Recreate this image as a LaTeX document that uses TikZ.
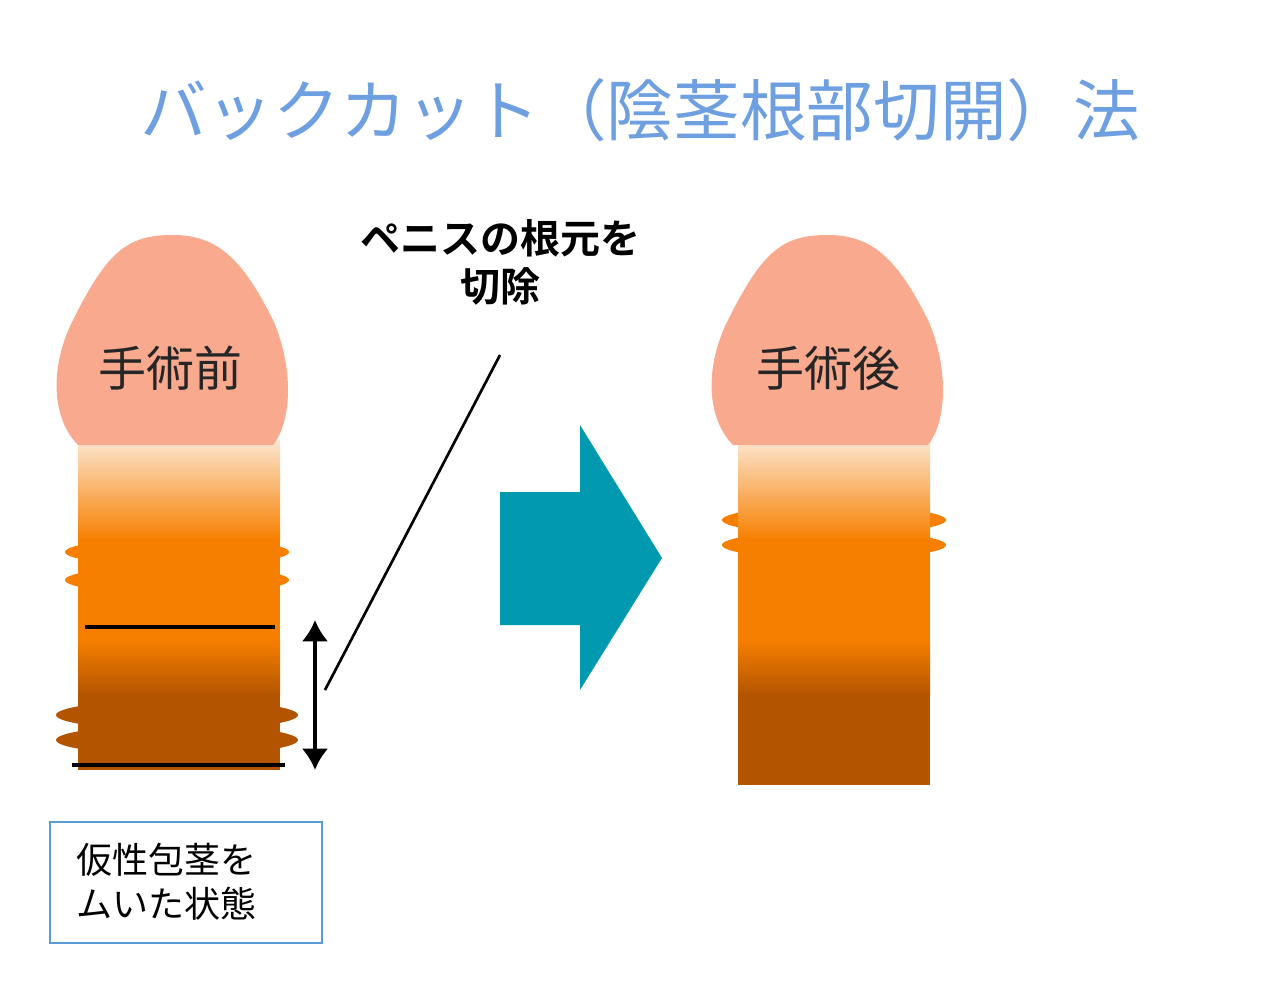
\documentclass[tikz,border=0pt]{standalone}
\usepackage{fontspec}
\usetikzlibrary{arrows.meta}
\newfontfamily\jp{Noto Sans CJK JP}
\newfontfamily\jpb{Noto Sans CJK JP}[BoldFont={* Bold}]
\definecolor{titleblue}{HTML}{6E9FE0}
\definecolor{headpink}{HTML}{F9A98E}
\definecolor{cream}{HTML}{FCE6CF}
\definecolor{shaftorange}{HTML}{F77F00}
\definecolor{shaftbrown}{HTML}{B35500}
\definecolor{teal}{HTML}{0099B0}
\definecolor{boxblue}{HTML}{5B9BD5}
\tikzset{
  lbl/.style={font=\jp\fontsize{36}{40}\selectfont, text=black!85},
  cut/.style={line width=3pt, black}
}
\newcommand{\shaft}[4]{%
% left x, right x, top y, bottom y
  \shade[top color=cream, bottom color=shaftorange] (#1,#3) rectangle (#2,#3+100);
  \fill[shaftorange] (#1,#3+99) rectangle (#2,#3+200);
  \shade[top color=shaftorange, bottom color=shaftbrown] (#1,#3+199) rectangle (#2,#3+255);
  \fill[shaftbrown] (#1,#3+254) rectangle (#2,#4);
}
\newcommand{\glans}[2]{%
% centre x, top y
  \fill[headpink] (#1-97,#2+210) .. controls (#1-122,#2+185) and (#1-127,#2+135) .. (#1-102,#2+85)
    .. controls (#1-67,#2+15) and (#1-47,#2) .. (#1-2,#2)
    .. controls (#1+43,#2) and (#1+68,#2+25) .. (#1+98,#2+85)
    .. controls (#1+118,#2+130) and (#1+118,#2+185) .. (#1+98,#2+210) -- cycle;
}
\begin{document}
\begin{tikzpicture}[x=0.75pt,y=-0.75pt]
  \useasboundingbox (0,0) rectangle (1284,1003);
  \node[font=\jp\fontsize{50}{56}\selectfont, text=titleblue] (title) at (640,110)
    {バックカット（陰茎根部切開）法};
  % before
  \foreach \y in {552,580} \fill[shaftorange] (177,\y) ellipse (112 and 14);
  \foreach \y in {715,740} \fill[shaftbrown] (177,\y) ellipse (121 and 15);
  \shaft{78}{280}{440}{770}
  \glans{175}{235}
  \draw[cut] (85,627) -- (275,627);
  \draw[cut] (72,765) -- (285,765);
  \node[lbl] (before) at (170,368) {手術前};
  % after
  \foreach \y in {520,545} \fill[shaftorange] (834,\y) ellipse (112 and 14);
  \shaft{738}{930}{440}{785}
  \glans{830}{235}
  \node[lbl] (after) at (828,368) {手術後};
  % cut label
  \coordinate (top) at (315,620);
  \coordinate (bot) at (315,770);
  \coordinate (mid) at (315,695);
  \draw[line width=3pt, -{Latex[length=16pt,width=20pt]}] (mid) -- (top);
  \draw[line width=3pt, -{Latex[length=16pt,width=20pt]}] (mid) -- (bot);
  \node[font=\jpb\bfseries\fontsize{30}{36}\selectfont, align=center] (note) at (500,262)
    {ペニスの根元を\\切除};
  \coordinate (tip) at (325,690);
  \coordinate (lead) at (500,355);
  \draw[line width=2pt] (tip) -- (lead);
  % arrow
  \fill[teal] (500,492) -- (580,492) -- (580,425) -- (662,558) -- (580,690)
    -- (580,625) -- (500,625) -- cycle;
  % box
  \draw[boxblue, line width=1.2pt] (50,822) rectangle (322,943);
  \node[font=\jp\fontsize{27}{33}\selectfont, align=left, anchor=west] (state) at (72,882)
    {仮性包茎を\\ムいた状態};
\end{tikzpicture}
\end{document}
